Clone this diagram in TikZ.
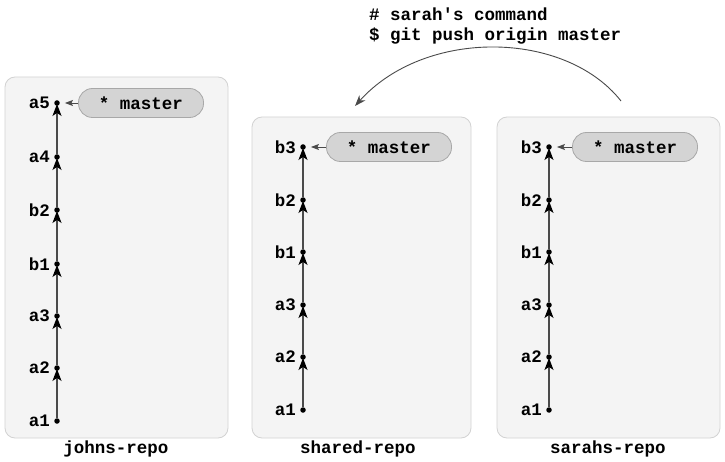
\documentclass[tikz,border=0pt]{standalone}
\usepackage{fontspec}
\setmonofont{Liberation Mono}
\usetikzlibrary{arrows.meta}
\definecolor{boxfill}{HTML}{F4F4F4}
\definecolor{boxline}{HTML}{D2D2D2}
\definecolor{pillfill}{HTML}{D4D4D4}
\definecolor{pillline}{HTML}{A8A8A8}
\definecolor{edgecol}{HTML}{4A4A4A}
\begin{document}
\begin{tikzpicture}[x=1pt,y=-1pt,
  every node/.style={font=\ttfamily\bfseries\fontsize{17.5}{20}\selectfont},
  repobox/.style={draw=boxline,fill=boxfill,rounded corners=10pt,line width=0.8pt},
  commit/.style={circle,fill=black,inner sep=0pt,minimum size=5.5pt},
  clabel/.style={anchor=east,inner sep=0pt},
  pill/.style={draw=pillline,fill=pillfill,rounded corners=14pt,minimum width=125pt,minimum height=29pt,inner sep=0pt,line width=0.8pt},
  parent/.style={draw=edgecol,line width=1.3pt,-{Stealth[length=12pt,width=9pt,inset=3pt,black]},shorten >=-2pt},
  ptr/.style={draw=edgecol,line width=0.8pt,-{Stealth[length=8pt,width=6pt,inset=1.5pt]},shorten >=5pt},
  repolabel/.style={inner sep=0pt}]
\useasboundingbox (0,0) rectangle (725,462);
% boxes
\draw[repobox] (5,77) rectangle (228,438);
\draw[repobox] (252,117) rectangle (471,438);
\draw[repobox] (497,117) rectangle (720,438);
\node[repolabel] (lj) at (116,449) {johns-repo};
\node[repolabel] (ls) at (358,449) {shared-repo};
\node[repolabel] (lr) at (608,449) {sarahs-repo};
% johns
\foreach \n/\y in {a5/103,a4/157,b2/210,b1/264,a3/316,a2/368,a1/421}{
  \node[commit] (j\n) at (57,\y) {};
  \node[clabel] at (50,\y) {\n};
}
\draw[parent] (ja1) -- (ja2);
\draw[parent] (ja2) -- (ja3);
\draw[parent] (ja3) -- (jb1);
\draw[parent] (jb1) -- (jb2);
\draw[parent] (jb2) -- (ja4);
\draw[parent] (ja4) -- (ja5);
\node[pill] (jm) at (141,103) {* master};
\draw[ptr] (jm.west) -- (ja5);
% shared and sarah
\foreach \p/\x in {s/303,r/549}{
  \foreach \n/\y in {b3/147,b2/200,b1/252,a3/305,a2/357,a1/410}{
    \node[commit] (\p\n) at (\x,\y) {};
    \node[clabel] at (\x-7,\y) {\n};
  }
  \draw[parent] (\p a1) -- (\p a2);
  \draw[parent] (\p a2) -- (\p a3);
  \draw[parent] (\p a3) -- (\p b1);
  \draw[parent] (\p b1) -- (\p b2);
  \draw[parent] (\p b2) -- (\p b3);
  \node[pill] (\p m) at (\x+86,147) {* master};
  \draw[ptr] (\p m.west) -- (\p b3);
}
% push command
\node[anchor=west,inner sep=0pt] (c1) at (369,14) {\# sarah's command};
\node[anchor=west,inner sep=0pt] (c2) at (369,36) {\$ git push origin master};
\coordinate (pstart) at (621,101);
\coordinate (pend) at (355,106);
\draw[edgecol,line width=0.9pt,-{Stealth[length=11pt,width=8pt]}] (pstart) .. controls (565,30) and (425,28) .. (pend);
\end{tikzpicture}
\end{document}
